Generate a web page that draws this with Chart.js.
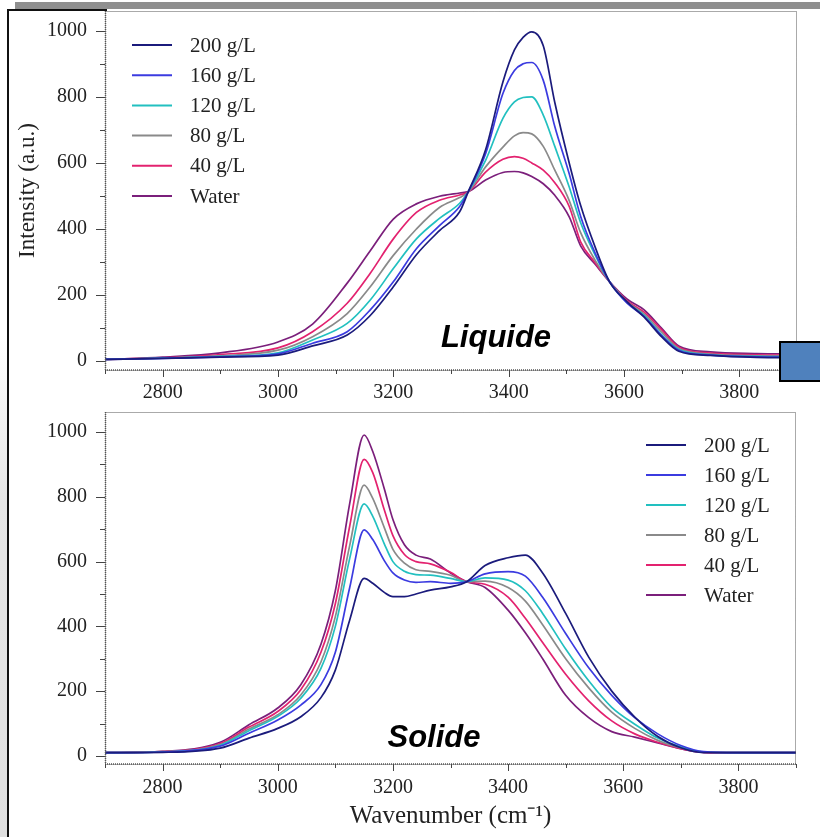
<!DOCTYPE html>
<html>
<head>
<meta charset="utf-8">
<script src="https://cdn.jsdelivr.net/npm/chart.js@4.4.1/dist/chart.umd.min.js"></script>
<style>
  body { margin: 0; background: #fff; }
  #page { position: relative; width: 820px; height: 837px; overflow: hidden; background: #fff; }
  .abs { position: absolute; }
  #topWrap { left: 0; top: 0; width: 820px; height: 400px; }
  #bottomWrap { left: 0; top: 400px; width: 820px; height: 437px; }
</style>
</head>
<body>
<div id="page">
  <div class="abs" style="left:0;top:0;width:7px;height:837px;background:linear-gradient(#fff 0%, #fff 40%, #e6e6e6 60%, #e0e0e0 100%)"></div>
  <div class="abs" style="left:15px;top:2px;width:805px;height:7px;background:#8f8f8f"></div>
  <div class="abs" style="left:7px;top:9px;width:98px;height:900px;border-left:2px solid #111;border-top:2px solid #111"></div>
  <div class="abs" id="topWrap"><canvas id="liquidChart"></canvas></div>
  <div class="abs" id="bottomWrap"><canvas id="solidChart"></canvas></div>
  <div class="abs" style="left:779px;top:341px;width:60px;height:37px;background:#4f81bd;border:2px solid #000"></div>
</div>
<script>
// Series labels and colours
const seriesNames = ['200 g/L', '160 g/L', '120 g/L', '80 g/L', '40 g/L', 'Water'];
const seriesColors = ['#1b1b7c', '#3b3be0', '#22c0c0', '#8a8a8a', '#e3226f', '#7b1f7b'];

// Liquide spectra (wavenumber, intensity)
const liqX = [2700, 2800, 2900, 3000, 3060, 3120, 3160, 3200, 3240, 3280, 3315, 3330, 3360, 3390, 3410, 3425, 3440, 3460, 3480, 3505, 3525, 3550, 3575, 3605, 3635, 3665, 3695, 3750, 3830, 3900];
const liq200 = [5, 8, 12, 18, 46, 79, 138, 225, 322, 395, 452, 513, 640, 845, 942, 980, 997, 955, 783, 600, 470, 345, 240, 180, 133, 74, 30, 17, 11, 10];
const liq160 = [5, 8, 13, 22, 54, 89, 155, 240, 340, 410, 468, 513, 628, 810, 880, 900, 904, 850, 710, 567, 437, 327, 240, 176, 135, 78, 33, 18, 13, 12];
const liq120 = [5, 9, 14, 25, 64, 114, 185, 280, 370, 432, 478, 513, 608, 735, 785, 798, 800, 745, 650, 527, 418, 321, 240, 178, 138, 80, 35, 19, 14, 13];
const liq80 = [5, 9, 16, 33, 74, 144, 225, 320, 400, 465, 495, 512, 588, 648, 682, 692, 688, 650, 578, 486, 388, 305, 240, 180, 142, 88, 38, 21, 16, 15];
const liq40 = [5, 10, 20, 40, 89, 175, 266, 370, 450, 487, 503, 512, 572, 611, 619, 614, 600, 578, 540, 468, 360, 298, 240, 183, 148, 95, 42, 24, 19, 18];
const liqWater = [5, 12, 25, 58, 112, 236, 334, 430, 476, 499, 509, 513, 548, 571, 574, 570, 559, 537, 502, 437, 348, 293, 240, 188, 155, 100, 46, 28, 23, 22];

// Solide spectra
const solX = [2700, 2800, 2900, 2950, 3000, 3040, 3075, 3100, 3125, 3150, 3165, 3185, 3200, 3220, 3240, 3265, 3300, 3328, 3360, 3400, 3430, 3460, 3500, 3540, 3580, 3620, 3660, 3700, 3740, 3800, 3900];
const sol200 = [10, 11, 24, 55, 85, 121, 180, 265, 420, 548, 533, 505, 492, 492, 500, 512, 522, 538, 588, 612, 620, 565, 440, 305, 200, 120, 60, 25, 10, 10, 10];
const sol160 = [10, 12, 30, 70, 111, 157, 220, 320, 520, 698, 668, 603, 565, 543, 536, 538, 533, 538, 562, 569, 555, 490, 378, 272, 187, 118, 68, 32, 13, 10, 10];
const sol120 = [10, 12, 33, 78, 122, 178, 270, 400, 610, 778, 740, 655, 600, 570, 560, 558, 548, 538, 550, 543, 510, 440, 330, 232, 150, 98, 55, 28, 12, 10, 10];
const sol80 = [10, 13, 35, 83, 127, 188, 290, 430, 650, 836, 795, 705, 638, 595, 575, 570, 558, 538, 540, 520, 478, 405, 300, 210, 135, 85, 48, 25, 12, 10, 10];
const sol40 = [10, 13, 38, 89, 137, 204, 320, 470, 710, 916, 875, 760, 680, 622, 600, 593, 567, 538, 530, 490, 425, 350, 252, 170, 108, 68, 42, 22, 11, 10, 10];
const solWater = [10, 14, 42, 96, 148, 220, 345, 510, 780, 991, 940, 825, 730, 652, 620, 608, 565, 538, 520, 450, 380, 300, 187, 118, 75, 58, 40, 22, 11, 10, 10];

// Axis ticks
const xTickStep = 100;
const yTickStep = 100;
const labelEvery = 200;

const serif = '"Liberation Serif", "Times New Roman", serif';

function makeDatasets(xs, seriesList) {
    return seriesList.map((ys, i) => ({
        label: seriesNames[i],
        data: xs.map((x, j) => ({ x: x, y: ys[j] })),
        borderColor: seriesColors[i],
        borderWidth: 1.7,
        pointRadius: 0,
        cubicInterpolationMode: 'monotone',
        fill: false
    }));
}

// frame, tick marks, inside legend and the big label
const decorations = {
    id: 'decorations',
    afterDraw(chart, args, opts) {
        const { ctx, chartArea: a, scales: { x, y } } = chart;
        ctx.save();
        ctx.setLineDash([1, 1]);
        ctx.strokeStyle = '#555';
        ctx.lineWidth = 1;
        ctx.strokeRect(a.left + 0.5, a.top + 0.5, a.right - a.left - 1, a.bottom - a.top);
        ctx.lineWidth = 1.5;
        ctx.beginPath();
        ctx.moveTo(a.left, a.bottom); ctx.lineTo(a.right, a.bottom);
        ctx.moveTo(a.left + 0.5, a.top); ctx.lineTo(a.left + 0.5, a.bottom);
        ctx.stroke();

        ctx.setLineDash([]);
        ctx.lineWidth = 1;
        ctx.strokeStyle = '#444';
        ctx.beginPath();
        y.ticks.forEach(t => {
            const py = Math.round(y.getPixelForValue(t.value)) + 0.5;
            const len = t.value % labelEvery === 0 ? 9 : 5;
            ctx.moveTo(a.left - len, py); ctx.lineTo(a.left, py);
        });
        x.ticks.forEach(t => {
            const px = Math.round(x.getPixelForValue(t.value)) + 0.5;
            const len = t.value % labelEvery === 0 ? 7 : 4;
            ctx.moveTo(px, a.bottom); ctx.lineTo(px, a.bottom + len);
        });
        ctx.stroke();

        // legend
        ctx.font = '21px ' + serif;
        ctx.textBaseline = 'middle';
        ctx.textAlign = 'left';
        chart.data.datasets.forEach((ds, i) => {
            const ly = opts.legendY + i * opts.legendGap;
            ctx.strokeStyle = ds.borderColor;
            ctx.lineWidth = 2;
            ctx.beginPath();
            ctx.moveTo(opts.legendX, ly); ctx.lineTo(opts.legendX + 40, ly);
            ctx.stroke();
            ctx.fillStyle = '#222';
            ctx.fillText(ds.label, opts.legendX + 58, ly + 1);
        });

        ctx.font = 'italic bold 31px "Liberation Sans", Arial, sans-serif';
        ctx.fillStyle = '#000';
        ctx.textAlign = 'center';
        ctx.textBaseline = 'alphabetic';
        ctx.fillText(opts.tag, opts.tagX, opts.tagY);
        ctx.restore();
    }
};

function makeChart(canvasId, xs, seriesList, cfg) {
    const ctx = document.getElementById(canvasId).getContext('2d');
    return new Chart(ctx, {
        type: 'line',
        data: { datasets: makeDatasets(xs, seriesList) },
        plugins: [decorations],
        options: {
            responsive: true,
            maintainAspectRatio: false,
            animation: false,
            layout: { padding: { top: cfg.padTop, right: cfg.padRight, left: 0, bottom: 0 } },
            plugins: {
                legend: { display: false },
                tooltip: { enabled: false },
                decorations: cfg.deco
            },
            scales: {
                x: {
                    type: 'linear',
                    min: 2700,
                    max: 3900,
                    grid: { display: false, drawTicks: false },
                    border: { display: false },
                    ticks: {
                        stepSize: xTickStep,
                        autoSkip: false,
                        maxRotation: 0,
                        padding: cfg.xPad,
                        color: '#222',
                        font: { family: serif, size: 20 },
                        callback: v => (v % labelEvery === 0 ? String(v) : '')
                    },
                    title: {
                        display: cfg.xTitle,
                        text: 'Wavenumber (cm\u207B\u00B9)',
                        color: '#222',
                        font: { family: serif, size: 25 },
                        padding: { top: 0, bottom: 6 }
                    },
                    afterFit: s => {
                        s.height = cfg.xHeight;
                        s.paddingLeft = 0;
                        s.paddingRight = 0;
                    }
                },
                y: {
                    min: cfg.yMin,
                    max: cfg.yMax,
                    grid: { display: false, drawTicks: false },
                    border: { display: false },
                    ticks: {
                        stepSize: yTickStep,
                        includeBounds: false,
                        autoSkip: false,
                        padding: 18,
                        color: '#222',
                        font: { family: serif, size: 20 },
                        callback: v => (v % labelEvery === 0 ? String(v) : '')
                    },
                    title: {
                        display: cfg.yTitle,
                        text: 'Intensity (a.u.)',
                        color: '#222',
                        font: { family: serif, size: 23 },
                        padding: { top: 14, bottom: 0 }
                    },
                    afterFit: s => {
                        s.width = 105;
                        s.paddingTop = 0;
                        s.paddingBottom = 0;
                    }
                }
            }
        }
    });
}

makeChart('liquidChart', liqX, [liq200, liq160, liq120, liq80, liq40, liqWater], {
    padTop: 11, padRight: 23, xHeight: 30, xPad: 11, xTitle: false, yTitle: true,
    yMin: -27, yMax: 1060,
    deco: { legendX: 132, legendY: 45, legendGap: 30.2, tag: 'Liquide', tagX: 496, tagY: 347 }
});

makeChart('solidChart', solX, [sol200, sol160, sol120, sol80, sol40, solWater], {
    padTop: 12, padRight: 24, xHeight: 73, xPad: 12, xTitle: true, yTitle: false,
    yMin: -25, yMax: 1062,
    deco: { legendX: 646, legendY: 45, legendGap: 30, tag: 'Solide', tagX: 434, tagY: 347 }
});
</script>
</body>
</html>
